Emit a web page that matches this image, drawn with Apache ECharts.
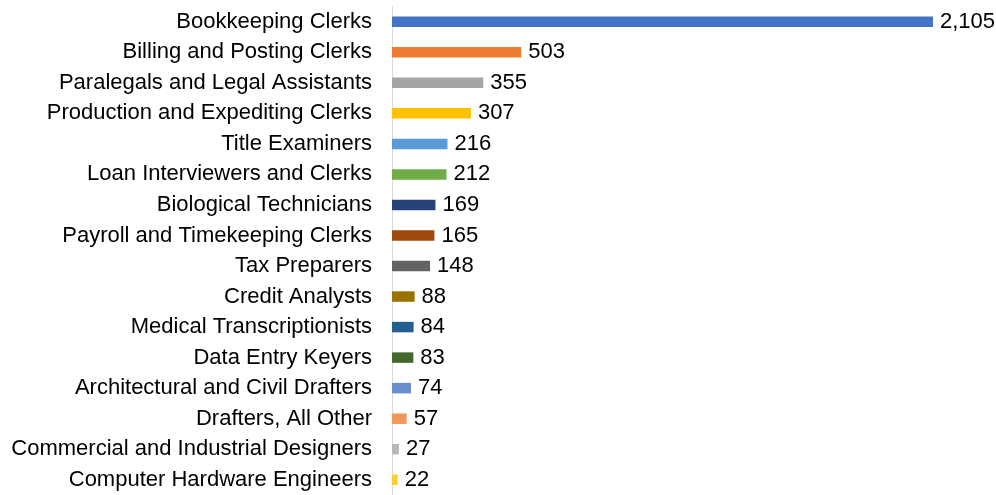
<!DOCTYPE html>
<html><head><meta charset="utf-8">
<script src="https://cdn.jsdelivr.net/npm/echarts@6/dist/echarts.min.js"></script>
<style>html,body{margin:0;padding:0;background:#fff;}#c{width:996px;height:495px;}</style>
</head><body><div id="c"></div>
<script>
const categories = ["Bookkeeping Clerks","Billing and Posting Clerks","Paralegals and Legal Assistants","Production and Expediting Clerks","Title Examiners","Loan Interviewers and Clerks","Biological Technicians","Payroll and Timekeeping Clerks","Tax Preparers","Credit Analysts","Medical Transcriptionists","Data Entry Keyers","Architectural and Civil Drafters","Drafters, All Other","Commercial and Industrial Designers","Computer Hardware Engineers"];
const values = [2105,503,355,307,216,212,169,165,148,88,84,83,74,57,27,22];
const colors = ["#4472C4","#ED7D31","#A5A5A5","#FFC000","#5B9BD5","#70AD47","#264478","#9E480E","#636363","#997300","#255E91","#43682B","#698ED0","#F1975A","#B7B7B7","#FFCD33"];
const chart = echarts.init(document.getElementById('c'));
chart.setOption({
  animation:false,
  grid:{left:392, top:6.5, width:541, height:491, containLabel:false},
  xAxis:{type:'value', min:0, max:2105, show:false},
  yAxis:{type:'category', data:categories, inverse:true,
    axisLine:{show:true, lineStyle:{color:'#d9d9d9', width:1}},
    axisTick:{show:false},
    axisLabel:{margin:20, color:'#000', fontSize:22, fontFamily:'Liberation Sans, Arial, sans-serif'}},
  series:[{type:'bar', barWidth:10.5,
    data: values.map((v,i)=>({value:v, itemStyle:{color:colors[i]}})),
    label:{show:true, position:'right', distance:7, color:'#000', fontSize:22, fontFamily:'Liberation Sans, Arial, sans-serif',
      formatter:p=>p.value.toLocaleString('en-US')}
  }]
});
</script></body></html>
